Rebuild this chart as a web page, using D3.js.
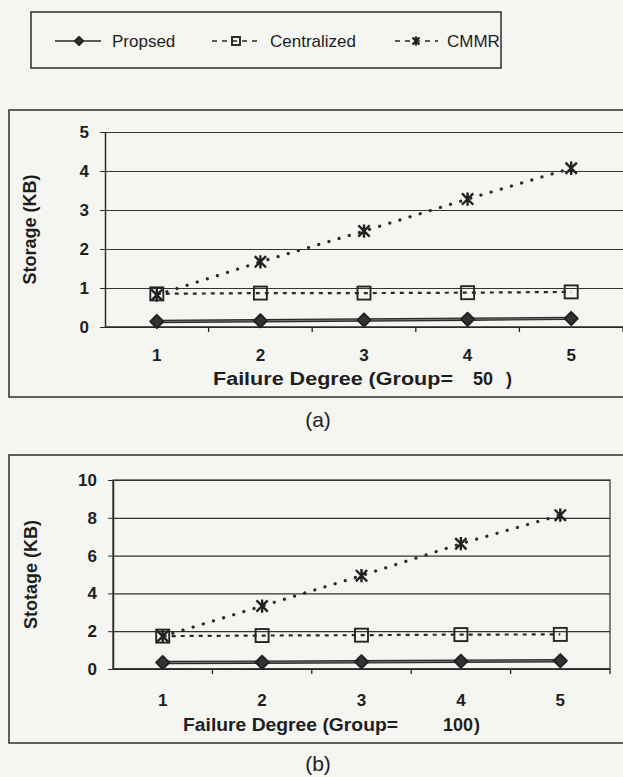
<!DOCTYPE html>
<html>
<head>
<meta charset="utf-8">
<script src="https://cdn.jsdelivr.net/npm/d3@7"></script>
<style>
  html, body { margin: 0; padding: 0; background: #f5f5f2; }
  svg { display: block; font-family: "Liberation Sans", Arial, sans-serif; }
  .grid line { stroke: #333; stroke-width: 1.2; }
  .grid .domain { display: none; }
  .y.axis .domain { stroke: #2a2a2a; stroke-width: 1.5; }
  .y.axis line { stroke: #2a2a2a; }
  .tick text, text.xlabel { font-weight: bold; font-size: 17px; fill: #1e1e1e; }
  .frame { fill: none; stroke: #2e2e2e; stroke-width: 1.5; }
  .title { font-weight: bold; font-size: 18px; fill: #1e1e1e; white-space: pre; }
  .legend text { font-size: 17px; fill: #1e1e1e; }
</style>
</head>
<body>
<div id="chart"></div>
<script>
// values
var degrees = [1, 2, 3, 4, 5];
var seriesNames = ['Propsed', 'Centralized', 'CMMR'];

var proposedA = [0.14, 0.16, 0.18, 0.2, 0.22];
var centralizedA = [0.85, 0.87, 0.87, 0.88, 0.9];
var cmmrA = [0.82, 1.67, 2.46, 3.28, 4.07];
var yTicksA = [0, 1, 2, 3, 4, 5];

var proposedB = [0.34, 0.36, 0.38, 0.41, 0.44];
var centralizedB = [1.74, 1.77, 1.79, 1.82, 1.83];
var cmmrB = [1.73, 3.33, 4.94, 6.63, 8.14];
var yTicksB = [0, 2, 4, 6, 8, 10];

var INK = '#262626';

var svg = d3.select('#chart')
  .append('svg')
  .attr('width', 623)
  .attr('height', 777);

// star marker like excel's "*" (x with a vertical bar)
var starPath = function(r) {
  return `M${-r},${-r}L${r},${r}M${-r},${r}L${r},${-r}M0,${-r - 1}L0,${r + 1}`;
};

var drawMarker = function(g, type, size) {
  if (type == 'Propsed') {
    var h = size / 2;
    g.append('path')
      .attr('d', `M0,${-h}L${h},0L0,${h}L${-h},0Z`)
      .attr('fill', '#333')
      .attr('stroke', '#222')
      .attr('stroke-width', 2)
      .attr('stroke-linejoin', 'round');
  } else if (type == 'Centralized') {
    g.append('rect')
      .attr('x', -size / 2)
      .attr('y', -size / 2)
      .attr('width', size)
      .attr('height', size)
      .attr('fill', 'none')
      .attr('stroke', INK)
      .attr('stroke-width', 1.9);
  } else {
    g.append('path')
      .attr('d', starPath(size / 2.3))
      .attr('fill', 'none')
      .attr('stroke', '#222')
      .attr('stroke-width', 2.4);
  }
};

var lineStyle = {
  Propsed: { dash: null, width: 3.4, cap: 'butt' },
  Centralized: { dash: '4,5', width: 2.2, cap: 'butt' },
  CMMR: { dash: '0.1,10.5', width: 3.2, cap: 'round' }
};

// legend
var legend = svg.append('g').attr('class', 'legend');

legend.append('rect')
  .attr('class', 'frame')
  .attr('x', 31)
  .attr('y', 12)
  .attr('width', 470)
  .attr('height', 56)
  .attr('stroke-width', 1.7);

var legendItems = [
  { name: 'Propsed', x1: 55, x2: 101, mx: 79, tx: 112 },
  { name: 'Centralized', x1: 212, x2: 262, mx: 236, tx: 270 },
  { name: 'CMMR', x1: 395, x2: 438, mx: 416, tx: 447 }
];

legendItems.forEach(function(d) {
  legend.append('line')
    .attr('x1', d.x1)
    .attr('x2', d.x2)
    .attr('y1', 41)
    .attr('y2', 41)
    .attr('stroke', INK)
    .attr('stroke-width', 1.7)
    .attr('stroke-dasharray', d.name == 'Propsed' ? null : '5,5');
  drawMarker(legend.append('g').attr('transform', `translate(${d.mx},41)`), d.name, 8);
  legend.append('text')
    .attr('x', d.tx)
    .attr('y', 47)
    .text(d.name);
});

var renderPanel = function(config) {
  var { top, bottom, left, right, boxTop, boxBottom, yMax, yTicks, data,
    yLabel, labelX, titleParts, caption, captionY, tickLabelY, frame } = config;

  var x = d3.scaleBand().domain(degrees).range([left, right]);
  var y = d3.scaleLinear().domain([0, yMax]).range([bottom, top]);

  var g = svg.append('g');

  g.append('rect')
    .attr('class', 'frame')
    .attr('x', 9)
    .attr('y', boxTop)
    .attr('width', 700)
    .attr('height', boxBottom - boxTop);

  // gridlines
  g.append('g')
    .attr('class', 'grid')
    .attr('transform', `translate(${left},0)`)
    .call(d3.axisLeft(y).tickValues(yTicks).tickSize(-(right - left)).tickFormat(''));

  if (frame) {
    g.append('rect')
      .attr('x', left)
      .attr('y', top)
      .attr('width', right - left)
      .attr('height', bottom - top)
      .attr('fill', 'none')
      .attr('stroke', '#333')
      .attr('stroke-width', 1.2);
  }

  // y axis
  g.append('g')
    .attr('class', 'y axis')
    .attr('transform', `translate(${left},0)`)
    .call(d3.axisLeft(y)
      .tickValues(yTicks)
      .tickFormat(d3.format('d'))
      .tickSize(5)
      .tickPadding(11)
      .tickSizeOuter(0));

  // x axis line + ticks between categories
  g.append('line')
    .attr('x1', left)
    .attr('x2', right)
    .attr('y1', bottom)
    .attr('y2', bottom)
    .attr('stroke', INK)
    .attr('stroke-width', 1.7);

  g.selectAll('.xtick')
    .data(degrees.slice(1).concat(['end']))
    .enter()
    .append('line')
    .attr('x1', d => d == 'end' ? right : x(d))
    .attr('x2', d => d == 'end' ? right : x(d))
    .attr('y1', bottom)
    .attr('y2', bottom + 5)
    .attr('stroke', INK)
    .attr('stroke-width', 1.3);

  g.selectAll('.xlabel')
    .data(degrees)
    .enter()
    .append('text')
    .attr('class', 'xlabel')
    .attr('x', d => x(d) + x.bandwidth() / 2)
    .attr('y', tickLabelY)
    .attr('text-anchor', 'middle')
    .text(d => d);

  // axis titles
  g.append('text')
    .attr('class', 'title')
    .attr('transform', `translate(${labelX},${(top + bottom) / 2}) rotate(-90)`)
    .attr('text-anchor', 'middle')
    .attr('dy', '0.35em')
    .text(yLabel);

  titleParts.forEach(function(p) {
    var t = g.append('text')
      .attr('class', 'title')
      .attr('x', p.x)
      .attr('y', p.y)
      .text(p.text);
    if (p.len) t.attr('textLength', p.len).attr('lengthAdjust', 'spacingAndGlyphs');
  });

  g.append('text')
    .attr('x', 318)
    .attr('y', captionY)
    .attr('text-anchor', 'middle')
    .style('font-size', '21px')
    .attr('fill', '#1e1e1e')
    .text(caption);

  // series
  var line = d3.line()
    .x((d, i) => x(degrees[i]) + x.bandwidth() / 2)
    .y(d => y(d));

  data.forEach(function(series, k) {
    var name = seriesNames[k];
    var s = lineStyle[name];
    g.append('path')
      .attr('d', line(series))
      .attr('fill', 'none')
      .attr('stroke', '#2a2a2a')
      .attr('stroke-width', s.width)
      .attr('stroke-linecap', s.cap)
      .attr('stroke-dasharray', s.dash);
    if (name == 'Propsed') {
      g.append('path')
        .attr('d', line(series))
        .attr('fill', 'none')
        .attr('stroke', '#8a8a8a')
        .attr('stroke-width', 0.8);
    }
    series.forEach(function(v, i) {
      drawMarker(
        g.append('g').attr('transform',
          `translate(${x(degrees[i]) + x.bandwidth() / 2},${y(v)})`),
        name,
        name == 'Centralized' ? 13 : 13
      );
    });
  });
};

renderPanel({
  top: 132, bottom: 327, left: 105, right: 623,
  boxTop: 110, boxBottom: 397,
  yMax: 5, yTicks: yTicksA,
  data: [proposedA, centralizedA, cmmrA],
  yLabel: 'Storage (KB)', labelX: 30,
  tickLabelY: 361,
  titleParts: [
    { text: 'Failure Degree (Group=', x: 213, y: 385, len: 240 },
    { text: '50', x: 473, y: 385 },
    { text: ')', x: 506, y: 385 }
  ],
  caption: '(a)', captionY: 427,
  frame: false
});

renderPanel({
  top: 480, bottom: 669, left: 113, right: 610,
  boxTop: 455, boxBottom: 743,
  yMax: 10, yTicks: yTicksB,
  data: [proposedB, centralizedB, cmmrB],
  yLabel: 'Stotage (KB)', labelX: 31,
  tickLabelY: 706,
  titleParts: [
    { text: 'Failure Degree (Group=', x: 183, y: 731, len: 215 },
    { text: '100', x: 443, y: 731 },
    { text: ')', x: 474, y: 731 }
  ],
  caption: '(b)', captionY: 771,
  frame: true
});
</script>
</body>
</html>
